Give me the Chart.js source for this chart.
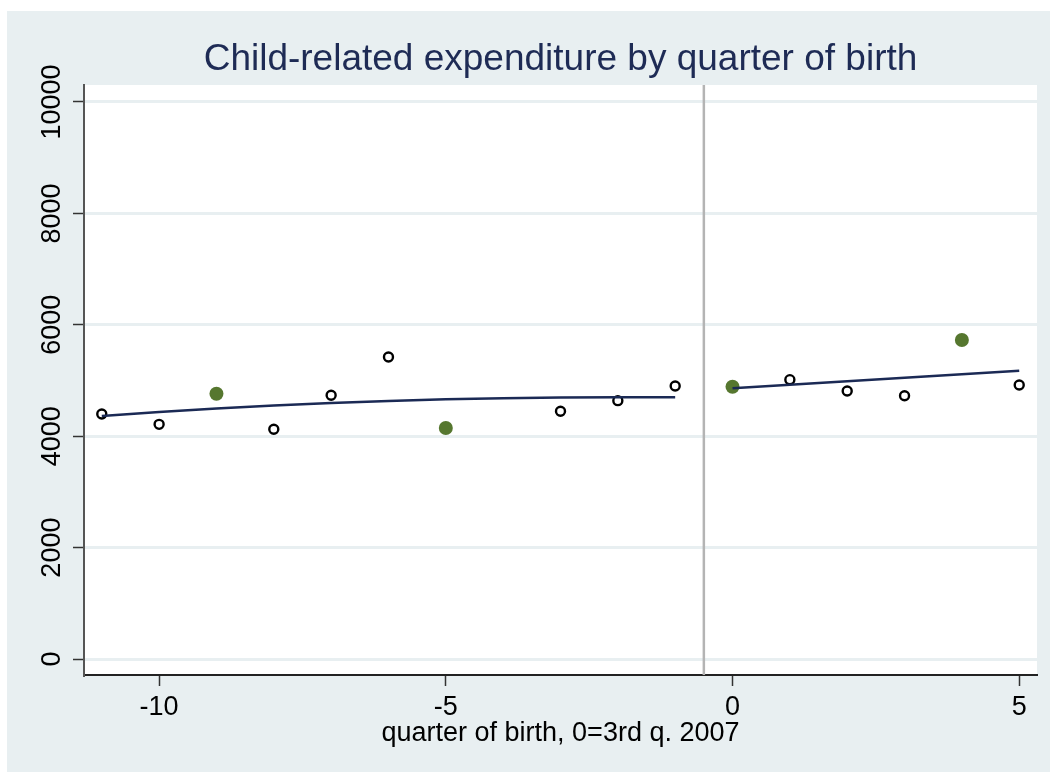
<!DOCTYPE html>
<html lang="en">
<head>
<meta charset="UTF-8">
<title>Child-related expenditure by quarter of birth</title>
<script src="https://cdn.jsdelivr.net/npm/chart.js"></script>
<style>
  html, body { margin: 0; padding: 0; background: #ffffff; }
  canvas { display: block; }
</style>
</head>
<body>
<canvas id="chart" width="1056" height="774"></canvas>
<script>
// quarter of birth (0 = 3rd quarter 2007) and mean expenditure
const hollowX = [-11, -10, -8, -7, -6, -3, -2, -1, 1, 2, 3, 5];
const hollowY = [4399, 4213, 4124, 4734, 5422, 4447, 4638, 4901, 5015, 4811, 4727, 4919];
const greenX = [-9, -5, 0, 4];
const greenY = [4763, 4147, 4889, 5727];

// fitted lines either side of the cutoff
const fitLeftX = [-11, -10, -9, -8, -7, -6, -5, -4, -3, -2, -1];
const fitLeftY = [4363, 4433, 4496, 4549, 4595, 4633, 4662, 4683, 4697, 4701, 4698];
const fitRightX = [0, 1, 2, 3, 4, 5];
const fitRightY = [4860, 4923, 4986, 5050, 5113, 5176];

const cutoff = -0.5;
const xTicks = [-10, -5, 0, 5];
const yTicks = [0, 2000, 4000, 6000, 8000, 10000];

const pts = (xs, ys) => xs.map((x, i) => ({ x: x, y: ys[i] }));

const bgColor = '#e8eff1';
const FONT = "'Liberation Sans', Arial, sans-serif";

// outer grey-blue frame and white plot region
const backdrop = {
  id: 'backdrop',
  beforeDraw(chart) {
    const { ctx, chartArea: a } = chart;
    ctx.save();
    ctx.fillStyle = '#ffffff';
    ctx.fillRect(0, 0, chart.width, chart.height);
    ctx.fillStyle = bgColor;
    ctx.fillRect(7, 11, chart.width - 13, chart.height - 13);
    ctx.fillStyle = '#ffffff';
    ctx.fillRect(a.left, a.top, a.right - a.left, a.bottom - a.top);
    ctx.restore();
  }
};

// vertical reference line at the cutoff
const cutLine = {
  id: 'cutLine',
  beforeDatasetsDraw(chart) {
    const { ctx, chartArea: a, scales } = chart;
    const px = scales.x.getPixelForValue(cutoff);
    ctx.save();
    ctx.strokeStyle = '#b4b4b4';
    ctx.lineWidth = 2.5;
    ctx.beginPath();
    ctx.moveTo(px, a.top);
    ctx.lineTo(px, a.bottom);
    ctx.stroke();
    ctx.restore();
  }
};

new Chart(document.getElementById('chart'), {
  type: 'scatter',
  data: {
    datasets: [
      {
        data: pts(fitLeftX, fitLeftY),
        showLine: true, pointRadius: 0,
        borderColor: '#1b2a55', borderWidth: 2.5, order: 0
      },
      {
        data: pts(fitRightX, fitRightY),
        showLine: true, pointRadius: 0,
        borderColor: '#1b2a55', borderWidth: 2.5, order: 0
      },
      {
        data: pts(hollowX, hollowY),
        pointRadius: 4.5, borderWidth: 2.4,
        borderColor: '#000000', backgroundColor: '#ffffff', order: 1
      },
      {
        data: pts(greenX, greenY),
        pointRadius: 7, borderWidth: 0,
        borderColor: '#56772f', backgroundColor: '#56772f', order: 1
      }
    ]
  },
  options: {
    responsive: false,
    animation: false,
    devicePixelRatio: 1,
    layout: { padding: { top: 0, left: 0, right: 19, bottom: 0 } },
    plugins: {
      legend: { display: false },
      tooltip: { enabled: false },
      title: {
        display: true,
        text: 'Child-related expenditure by quarter of birth',
        color: '#1e2b55',
        fullSize: false,
        font: { family: FONT, size: 37, weight: 'normal', lineHeight: 1.2 },
        padding: { top: 38, bottom: 2.6 }
      }
    },
    scales: {
      x: {
        type: 'linear',
        min: -11.31, max: 5.31,
        afterBuildTicks: s => { s.ticks = xTicks.map(v => ({ value: v })); },
        afterFit: s => { s.height = 99; },
        border: { display: true, color: '#222222', width: 2 },
        grid: { drawOnChartArea: false, tickLength: 11, tickColor: '#333333', tickWidth: 1.5 },
        ticks: {
          color: '#000000', padding: 5, maxRotation: 0, minRotation: 0,
          callback: v => String(v),
          font: { family: FONT, size: 27 }
        },
        title: {
          display: true,
          text: 'quarter of birth, 0=3rd q. 2007',
          color: '#000000',
          font: { family: FONT, size: 27 },
          padding: { top: 0, bottom: 24 }
        }
      },
      y: {
        type: 'linear',
        min: -287, max: 10305,
        afterBuildTicks: s => { s.ticks = yTicks.map(v => ({ value: v })); },
        afterFit: s => { s.width = 84; },
        border: { display: true, color: '#555555', width: 2 },
        grid: { color: bgColor, lineWidth: 3, tickLength: 11, tickColor: '#333333', tickWidth: 1.5 },
        ticks: {
          color: '#000000', padding: -17,
          minRotation: 90, maxRotation: 90, crossAlign: 'center',
          callback: v => String(v),
          font: { family: FONT, size: 27 }
        }
      }
    }
  },
  plugins: [backdrop, cutLine]
});
</script>
</body>
</html>
